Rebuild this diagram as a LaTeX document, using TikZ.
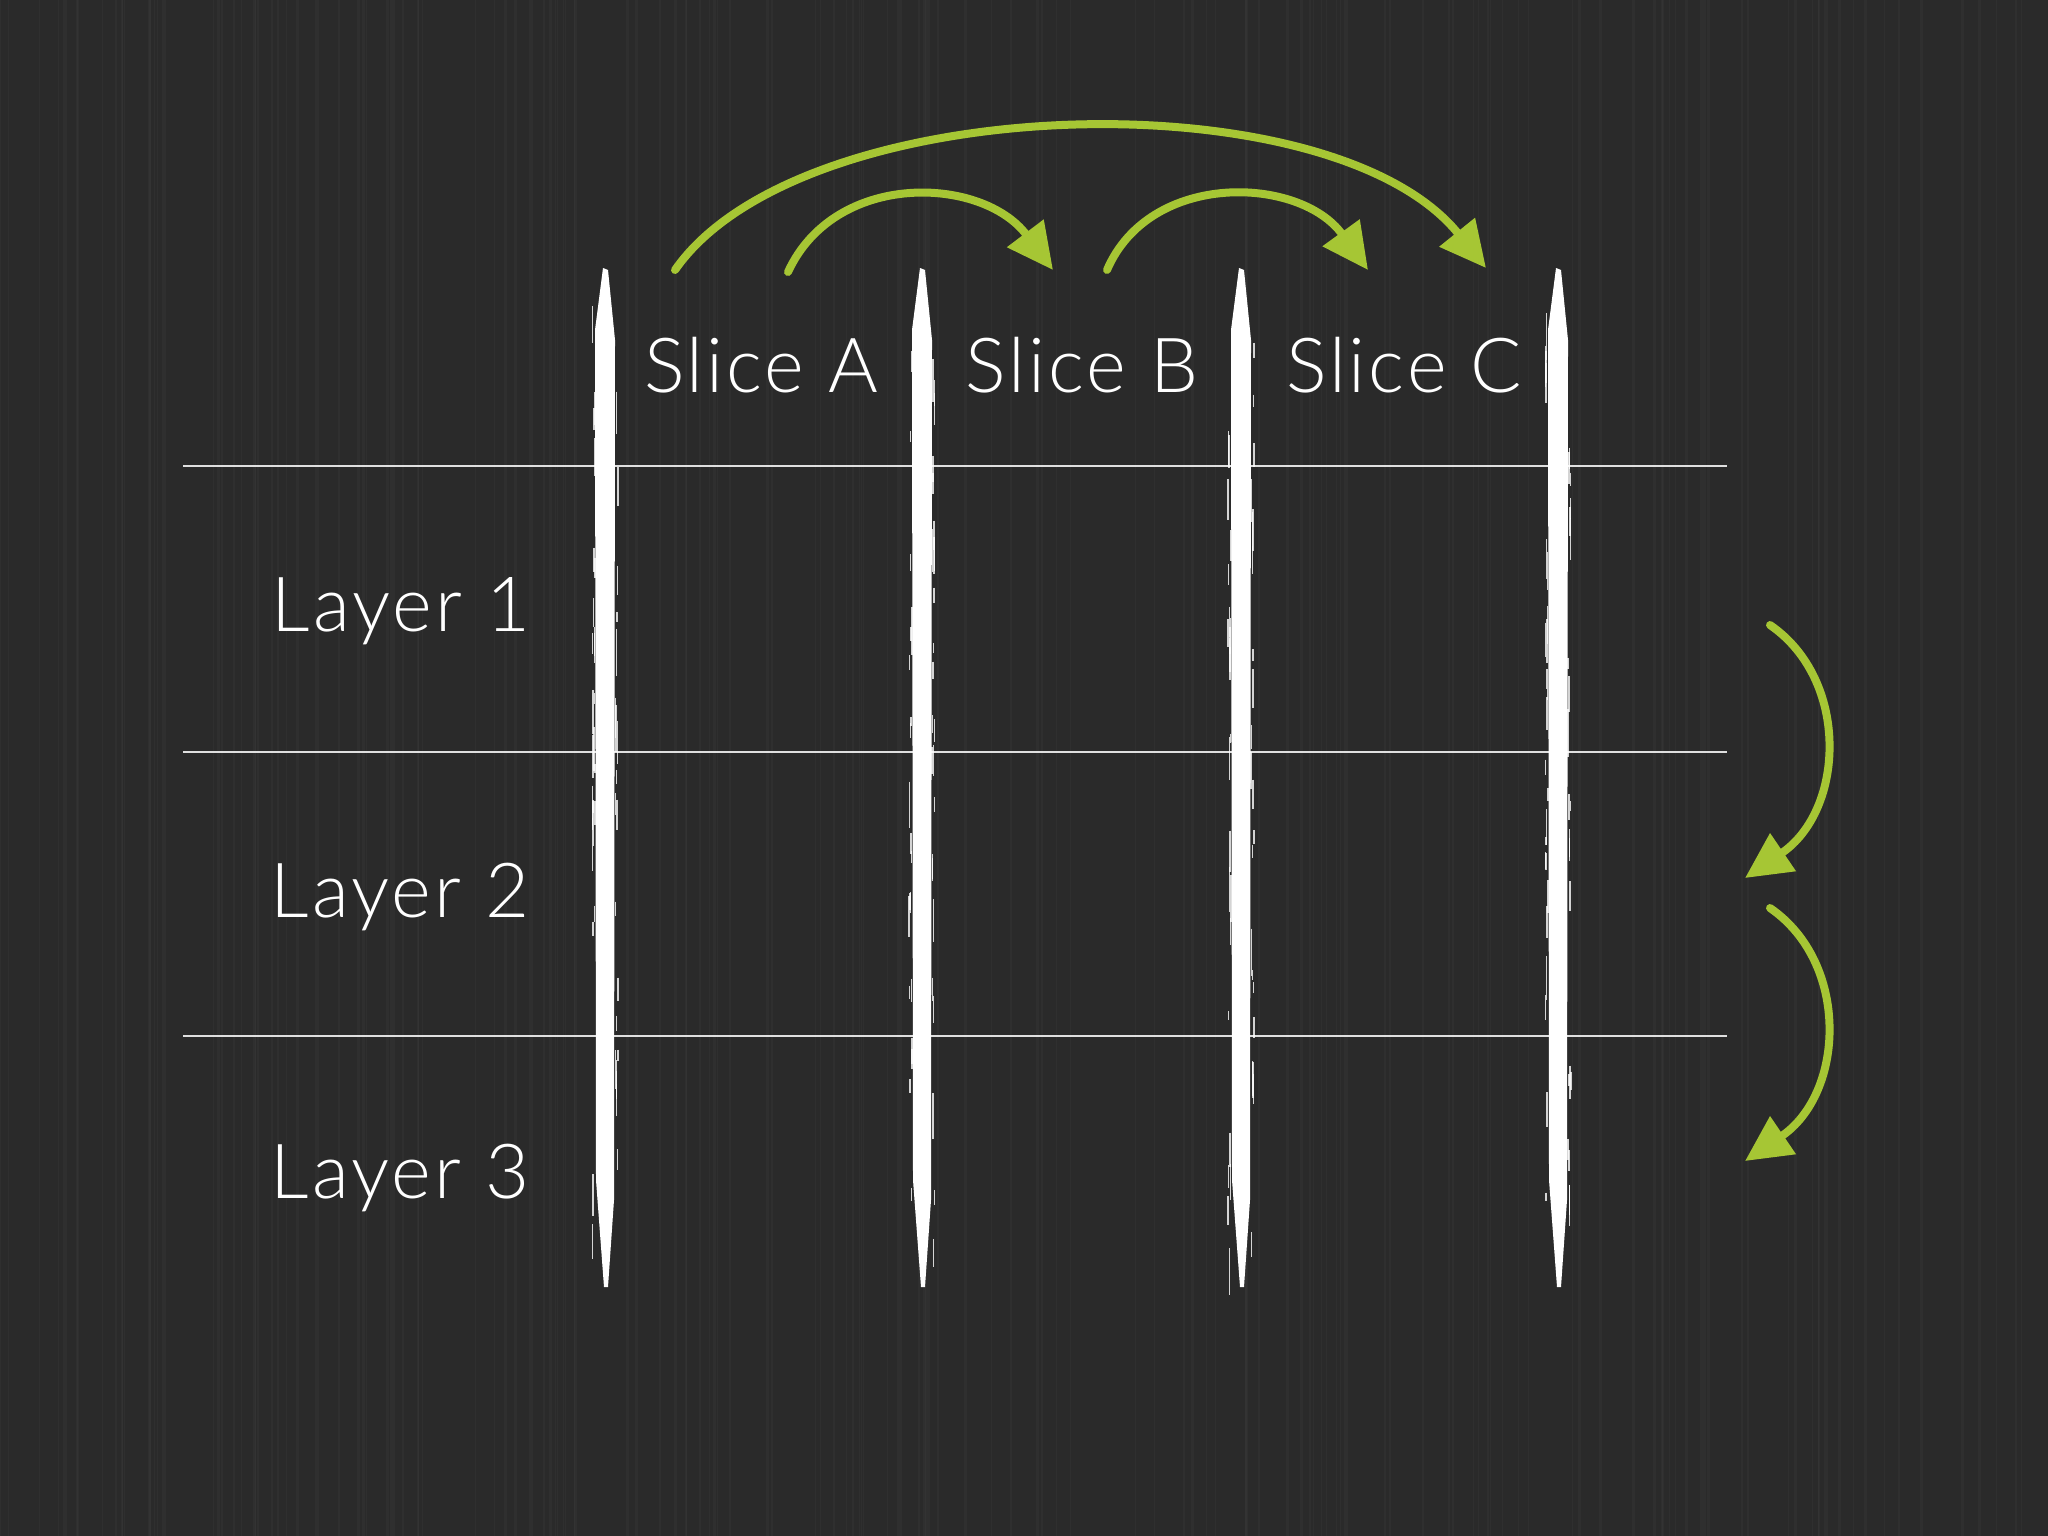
\documentclass[tikz,border=0pt]{standalone}
\usepackage{fontspec}
\setmainfont{Lato Light}[LetterSpace=4]
\usetikzlibrary{arrows.meta}
\definecolor{board}{RGB}{42,42,42}
\definecolor{chalkgreen}{RGB}{166,198,52}
\tikzset{
  heading/.style={text=white, font=\fontsize{76}{80}\selectfont, anchor=base, inner sep=0pt},
  gridline/.style={white, line width=2pt, opacity=0.85},
  chalkarrow/.style={chalkgreen, line width=8pt, line cap=round, -{Triangle[length=46pt,width=44pt]}},
}
\begin{document}
\begin{tikzpicture}[x=1pt,y=-1pt]
  \fill[board] (0,0) rectangle (2048,1536);
  \useasboundingbox (0,0) rectangle (2048,1536);
  % board streaks
  \pgfmathsetseed{7}
  \foreach \i in {1,...,160} {
    \pgfmathsetmacro{\sx}{2048*rnd}
    \pgfmathsetmacro{\sw}{0.5+2.5*rnd}
    \draw[white, opacity=0.025, line width=\sw pt] (\sx,0) -- (\sx,1536);
  }
  % rows
  \foreach \ry [count=\r] in {466,752,1036} {
    \coordinate (row\r W) at (183,\ry);
    \coordinate (row\r E) at (1727,\ry);
    \draw[gridline] (row\r W) -- (row\r E);
  }
  % chalk columns
  \foreach \cx [count=\c] in {605,922,1241,1558} {
    \coordinate (col\c N) at (\cx,268);
    \coordinate (col\c S) at (\cx,1287);
    \fill[white] ({\cx-2},268) -- ({\cx+3},270) -- ({\cx+10},340) -- ({\cx+9},1200)
      -- ({\cx+3},1287) -- ({\cx-1},1287) -- ({\cx-9},1180) -- ({\cx-10},330) -- cycle;
    % rough chalk edges
    \foreach \k in {1,...,45} {
      \pgfmathsetmacro{\ey}{300+950*rnd}
      \pgfmathsetmacro{\el}{8+40*rnd}
      \pgfmathsetmacro{\ex}{(rnd<0.5 ? -1 : 1)*(10+3*rnd)}
      \draw[white, line width=1.5pt, opacity=0.8] ({\cx+\ex},\ey) -- ({\cx+\ex},{\ey+\el});
    }
  }
  % labels
  \node[heading] (sliceA) at (761,392) {Slice A};
  \node[heading] (sliceB) at (1082,392) {Slice B};
  \node[heading] (sliceC) at (1404,392) {Slice C};
  \node[heading] (layer1) at (401,631) {Layer 1};
  \node[heading] (layer2) at (400,917) {Layer 2};
  \node[heading] (layer3) at (400,1198) {Layer 3};
  % arrows over the slices
  \coordinate (bigS) at (675,270);
  \coordinate (bigE) at (1486,268);
  \coordinate (abS) at (788,272);
  \coordinate (abE) at (1053,270);
  \coordinate (bcS) at (1107,270);
  \coordinate (bcE) at (1368,270);
  \draw[chalkarrow] (bigS) .. controls (800,90) and (1330,75) .. (bigE);
  \draw[chalkarrow] (abS) .. controls (835,170) and (982,176) .. (abE);
  \draw[chalkarrow] (bcS) .. controls (1150,170) and (1300,176) .. (bcE);
  % arrows down the layers
  \coordinate (downS1) at (1770,625);
  \coordinate (downE1) at (1745,878);
  \coordinate (downS2) at (1770,908);
  \coordinate (downE2) at (1745,1161);
  \draw[chalkarrow] (downS1) .. controls (1850,680) and (1845,810) .. (downE1);
  \draw[chalkarrow] (downS2) .. controls (1850,963) and (1845,1093) .. (downE2);
\end{tikzpicture}
\end{document}
